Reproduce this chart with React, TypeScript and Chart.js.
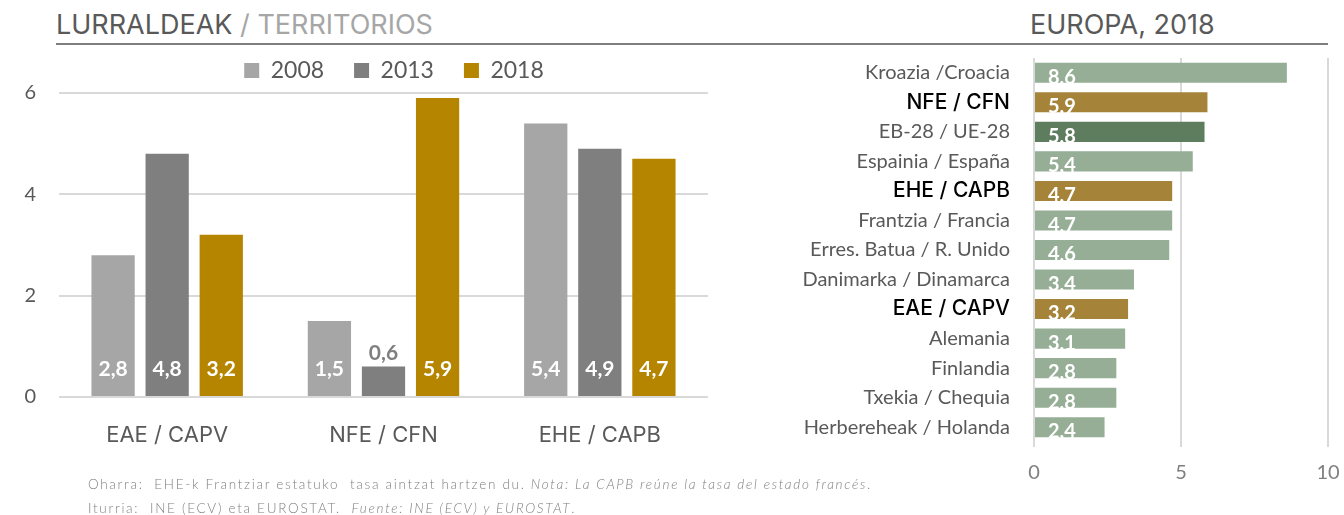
import React, { useEffect, useRef } from 'react';
import { Chart, registerables } from 'chart.js';

Chart.register(...registerables);

// ---------- DATA ----------
const groupLabels = ['EAE / CAPV', 'NFE / CFN', 'EHE / CAPB'];
const seriesYears = ['2008', '2013', '2018'];
const values2008 = [2.8, 1.5, 5.4];
const values2013 = [4.8, 0.6, 4.9];
const values2018 = [3.2, 5.9, 4.7];
const leftAxisMax = 6;
const leftAxisStep = 2;

const europeLabels = [
  'Kroazia /Croacia',
  'NFE / CFN',
  'EB-28 / UE-28',
  'Espainia / España',
  'EHE / CAPB',
  'Frantzia / Francia',
  'Erres. Batua / R. Unido',
  'Danimarka / Dinamarca',
  'EAE / CAPV',
  'Alemania',
  'Finlandia',
  'Txekia / Chequia',
  'Herbereheak / Holanda',
];
const europeValues = [8.6, 5.9, 5.8, 5.4, 4.7, 4.7, 4.6, 3.4, 3.2, 3.1, 2.8, 2.8, 2.4];
const europeKinds = ['country', 'basque', 'eu', 'country', 'basque', 'country', 'country', 'country', 'basque', 'country', 'country', 'country', 'country'];
const rightAxisMax = 10;
const rightAxisStep = 5;

// ---------- STYLES ----------
const seriesColors = ['#a6a6a6', '#7f7f7f', '#b58500'];
const kindColors: Record<string, string> = { country: '#95ae95', basque: '#a5843a', eu: '#5e7c5e' };

const fmt = (v: number) => v.toFixed(1).replace('.', ',');

const legendTweak = (h: number, shiftX: number) => ({
  id: 'legendTweak',
  beforeLayout(chart: any) {
    const lg = chart.legend;
    if (lg && !lg.__patched) {
      const orig = lg.fit.bind(lg);
      lg.fit = function () {
        orig();
        this.height = h;
      };
      lg.__patched = true;
    }
  },
  afterLayout(chart: any) {
    const lg = chart.legend;
    if (lg) {
      lg.left += shiftX;
      lg.right += shiftX;
    }
  },
});

const leftLabelsPlugin = {
  id: 'leftLabels',
  afterDatasetsDraw(chart: any) {
    const ctx = chart.ctx;
    chart.data.datasets.forEach((ds: any, di: number) => {
      const meta = chart.getDatasetMeta(di);
      meta.data.forEach((bar: any, i: number) => {
        const v = ds.data[i] as number;
        const { x, y, base } = bar.getProps(['x', 'y', 'base'], true);
        ctx.save();
        ctx.font = 'bold 21px Lato';
        ctx.textAlign = 'center';
        ctx.textBaseline = 'middle';
        if (base - y > 40) {
          ctx.fillStyle = '#ffffff';
          ctx.fillText(fmt(v), x, base - 27);
        } else {
          ctx.fillStyle = ds.backgroundColor;
          ctx.fillText(fmt(v), x, y - 13);
        }
        ctx.restore();
      });
    });
  },
};

const rightLabelsPlugin = {
  id: 'rightLabels',
  afterDatasetsDraw(chart: any) {
    const ctx = chart.ctx;
    const ds = chart.data.datasets[0];
    const meta = chart.getDatasetMeta(0);
    meta.data.forEach((bar: any, i: number) => {
      const v = ds.data[i] as number;
      const { y, base, height } = bar.getProps(['y', 'base', 'height'], true);
      ctx.save();
      ctx.font = 'bold 20px Lato';
      ctx.textAlign = 'left';
      ctx.textBaseline = 'alphabetic';
      ctx.fillStyle = '#ffffff';
      ctx.fillText(fmt(v), base + 13, y + height / 2 + 1);
      ctx.restore();
    });
  },
};

function LeftChart() {
  const ref = useRef<HTMLCanvasElement>(null);
  useEffect(() => {
    const series = [values2008, values2013, values2018];
    const chart = new Chart(ref.current as HTMLCanvasElement, {
      type: 'bar',
      data: {
        labels: groupLabels,
        datasets: series.map((d, i) => ({
          label: seriesYears[i],
          data: d,
          backgroundColor: seriesColors[i],
          borderWidth: 0,
          categoryPercentage: 0.75,
          barPercentage: 0.8,
        })),
      },
      options: {
        responsive: false,
        animation: false,
        layout: { padding: { left: 0, right: 12, top: 0, bottom: 0 } },
        plugins: {
          legend: {
            position: 'top',
            align: 'center',
            labels: {
              boxWidth: 15,
              boxHeight: 15,
              padding: 30,
              color: '#595959',
              font: { family: 'Lato', size: 23 },
            },
          },
          tooltip: { enabled: false },
        },
        scales: {
          x: {
            grid: { display: false, drawTicks: false },
            border: { display: false },
            ticks: { color: '#595959', font: { family: 'Inter', size: 22 }, padding: 25 },
            afterFit: (s: any) => {
              s.height = 63;
            },
          },
          y: {
            min: 0,
            max: leftAxisMax,
            ticks: { stepSize: leftAxisStep, color: '#595959', font: { family: 'Lato', size: 20 }, padding: 23 },
            grid: { color: '#d9d9d9', lineWidth: 2, drawTicks: false },
            border: { display: false },
            afterFit: (s: any) => {
              s.width = 59;
            },
          },
        },
      } as any,
      plugins: [legendTweak(64, 40), leftLabelsPlugin],
    });
    return () => chart.destroy();
  }, []);
  return (
    <canvas
      ref={ref}
      width={720}
      height={431}
      style={{ position: 'absolute', left: 0, top: 29, width: 720, height: 431 }}
    />
  );
}

function RightChart() {
  const ref = useRef<HTMLCanvasElement>(null);
  useEffect(() => {
    const chart = new Chart(ref.current as HTMLCanvasElement, {
      type: 'bar',
      data: {
        labels: europeLabels,
        datasets: [
          {
            data: europeValues,
            backgroundColor: europeKinds.map((k) => kindColors[k]),
            borderWidth: 0,
            barPercentage: 0.68,
            categoryPercentage: 1,
          },
        ],
      },
      options: {
        indexAxis: 'y',
        responsive: false,
        animation: false,
        layout: { padding: { left: 0, right: 16, top: 8, bottom: 0 } },
        plugins: { legend: { display: false }, tooltip: { enabled: false } },
        scales: {
          x: {
            min: 0,
            max: rightAxisMax,
            ticks: { stepSize: rightAxisStep, color: '#7f7f7f', font: { family: 'Lato', size: 20 }, padding: 14 },
            grid: { color: '#d9d9d9', lineWidth: 2, tickLength: 5, drawTicks: true },
            border: { display: false },
            afterFit: (s: any) => {
              s.height = 73;
              s.paddingLeft = 0;
              s.paddingRight = 0;
            },
          },
          y: {
            grid: { display: false },
            border: { display: false },
            ticks: {
              autoSkip: false,
              padding: 16,
              color: (c: any) => (europeKinds[c.index] === 'basque' ? '#000000' : '#595959'),
              font: (c: any) =>
                europeKinds[c.index] === 'basque'
                  ? { family: 'Inter', size: 21, weight: '500' }
                  : { family: 'Lato', size: 20, weight: '400' },
            },
            afterFit: (s: any) => {
              s.width = 314;
              s.paddingTop = 0;
              s.paddingBottom = 0;
            },
          },
        },
      } as any,
      plugins: [rightLabelsPlugin],
    });
    return () => chart.destroy();
  }, []);
  return (
    <canvas
      ref={ref}
      width={624}
      height={465}
      style={{ position: 'absolute', left: 720, top: 50, width: 624, height: 465 }}
    />
  );
}

export default function App() {
  return (
    <div
      style={{
        position: 'absolute',
        left: 0,
        top: 0,
        width: 1344,
        height: 515,
        overflow: 'hidden',
        background: '#ffffff',
      }}
    >
      <div
        style={{
          position: 'absolute',
          left: 56,
          top: 9,
          fontFamily: 'Inter',
          fontSize: 27,
          lineHeight: '32px',
          color: '#595959',
          whiteSpace: 'nowrap',
        }}
      >
        LURRALDEAK <span style={{ color: '#a6a6a6' }}>/ TERRITORIOS</span>
      </div>
      <div
        style={{
          position: 'absolute',
          left: 1030,
          top: 9,
          fontFamily: 'Inter',
          fontSize: 27,
          lineHeight: '32px',
          color: '#595959',
          whiteSpace: 'nowrap',
        }}
      >
        EUROPA, 2018
      </div>
      <div style={{ position: 'absolute', left: 56, top: 43, width: 1272, height: 2, background: '#7f7f7f' }} />
      <LeftChart />
      <RightChart />
      <div
        style={{
          position: 'absolute',
          left: 88,
          top: 472,
          fontFamily: 'Lato',
          fontWeight: 300,
          fontSize: 13.5,
          letterSpacing: '1.7px',
          lineHeight: '24px',
          color: '#7f7f7f',
          whiteSpace: 'pre',
        }}
      >
        <div>
          {'Oharra:  EHE-k Frantziar estatuko  tasa aintzat hartzen du. '}
          <i>Nota: La CAPB reúne la tasa del estado francés</i>.
        </div>
        <div>
          {'Iturria:  INE (ECV) eta EUROSTAT.  '}
          <i>Fuente: INE (ECV) y EUROSTAT</i>.
        </div>
      </div>
    </div>
  );
}
